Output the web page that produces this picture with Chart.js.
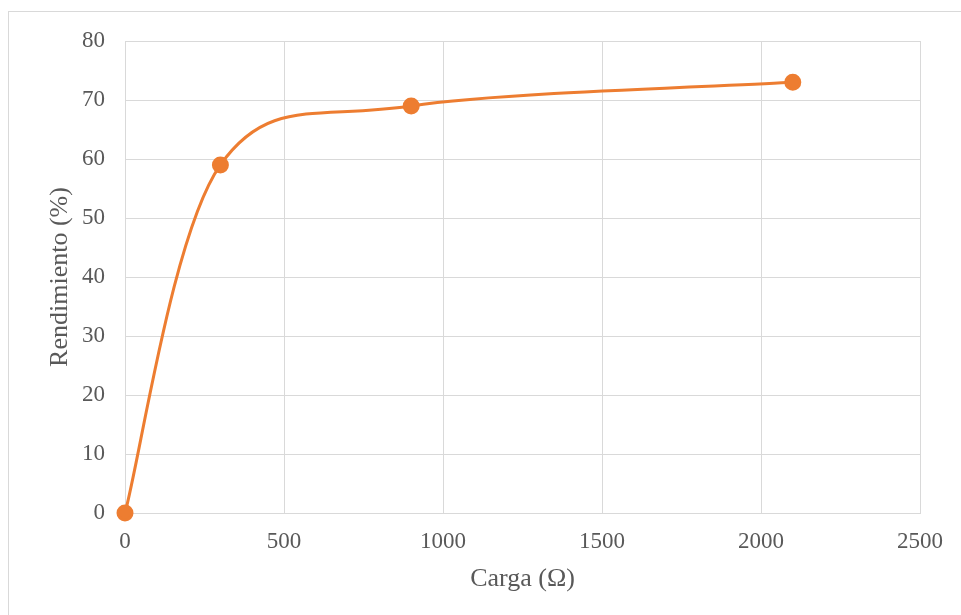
<!DOCTYPE html>
<html>
<head>
<meta charset="utf-8">
<script src="https://cdn.jsdelivr.net/npm/chart.js@4/dist/chart.umd.min.js"></script>
<style>
  html, body { margin: 0; padding: 0; background: #fff; }
  #wrap { position: relative; width: 961px; height: 615px; overflow: hidden; }
  #frame { position: absolute; left: 8px; top: 11px; width: 1000px; height: 700px; border: 1px solid #d9d9d9; box-sizing: border-box; }
  #chart { position: absolute; left: 0; top: 0; }
</style>
</head>
<body>
<div id="wrap">
  <div id="frame"></div>
  <canvas id="chart" width="961" height="615"></canvas>
</div>
<script>
// --- Load vs. efficiency measurements ---
const cargas = [0, 300, 900, 2100];          // Ω
const rendimientos = [0, 59, 69, 73];        // %
const xTicks = [0, 500, 1000, 1500, 2000, 2500];
const yTicks = [0, 10, 20, 30, 40, 50, 60, 70, 80];

const ORANGE = '#ED7D31';
const GRID = '#d9d9d9';
const TEXT = '#595959';
const FONT = 'Liberation Serif, "Times New Roman", serif';

const points = cargas.map((x, i) => ({ x, y: rendimientos[i] }));

// Uniform Catmull-Rom style control points (neighbour difference / 6),
// endpoints reuse themselves as the missing neighbour.
const smoothLine = {
  id: 'smoothLine',
  beforeDatasetsDraw(chart) {
    chart.getSortedVisibleDatasetMetas().forEach(meta => {
      const pts = meta.data;
      const n = pts.length;
      pts.forEach((p, i) => {
        const prev = pts[Math.max(i - 1, 0)];
        const next = pts[Math.min(i + 1, n - 1)];
        const dx = (next.x - prev.x) / 6;
        const dy = (next.y - prev.y) / 6;
        p.cp1x = p.x - dx; p.cp1y = p.y - dy;
        p.cp2x = p.x + dx; p.cp2y = p.y + dy;
      });
      meta.dataset._pointsUpdated = true;
    });
  }
};

const ctx = document.getElementById('chart').getContext('2d');
new Chart(ctx, {
  type: 'scatter',
  data: {
    datasets: [{
      data: points,
      showLine: true,
      borderColor: ORANGE,
      backgroundColor: ORANGE,
      borderWidth: 3,
      tension: 0.4,
      pointRadius: 7,
      pointHoverRadius: 7,
      clip: false
    }]
  },
  plugins: [smoothLine],
  options: {
    responsive: false,
    animation: false,
    layout: { padding: { top: 41, right: 41, left: 0, bottom: 0 } },
    plugins: { legend: { display: false }, tooltip: { enabled: false } },
    scales: {
      x: {
        type: 'linear',
        min: xTicks[0],
        max: xTicks[xTicks.length - 1],
        afterBuildTicks: s => { s.ticks = xTicks.map(v => ({ value: v })); },
        afterFit: s => { s.height = 102; },
        grid: { color: GRID, drawTicks: false },
        border: { color: GRID },
        ticks: { color: TEXT, font: { family: FONT, size: 23 }, padding: 15, callback: v => String(v) },
        title: {
          display: true, text: 'Carga (Ω)', color: TEXT,
          font: { family: FONT, size: 26 }, padding: { top: 0, bottom: 20 }
        }
      },
      y: {
        type: 'linear',
        min: yTicks[0],
        max: yTicks[yTicks.length - 1],
        afterBuildTicks: s => { s.ticks = yTicks.map(v => ({ value: v })); },
        afterFit: s => { s.width = 125; },
        grid: { color: GRID, drawTicks: false },
        border: { color: GRID },
        ticks: { color: TEXT, font: { family: FONT, size: 23 }, padding: 20, callback: v => String(v) },
        title: {
          display: true, text: 'Rendimiento (%)', color: TEXT,
          font: { family: FONT, size: 26 }, padding: { top: 45, bottom: 0 }
        }
      }
    }
  }
});
</script>
</body>
</html>
